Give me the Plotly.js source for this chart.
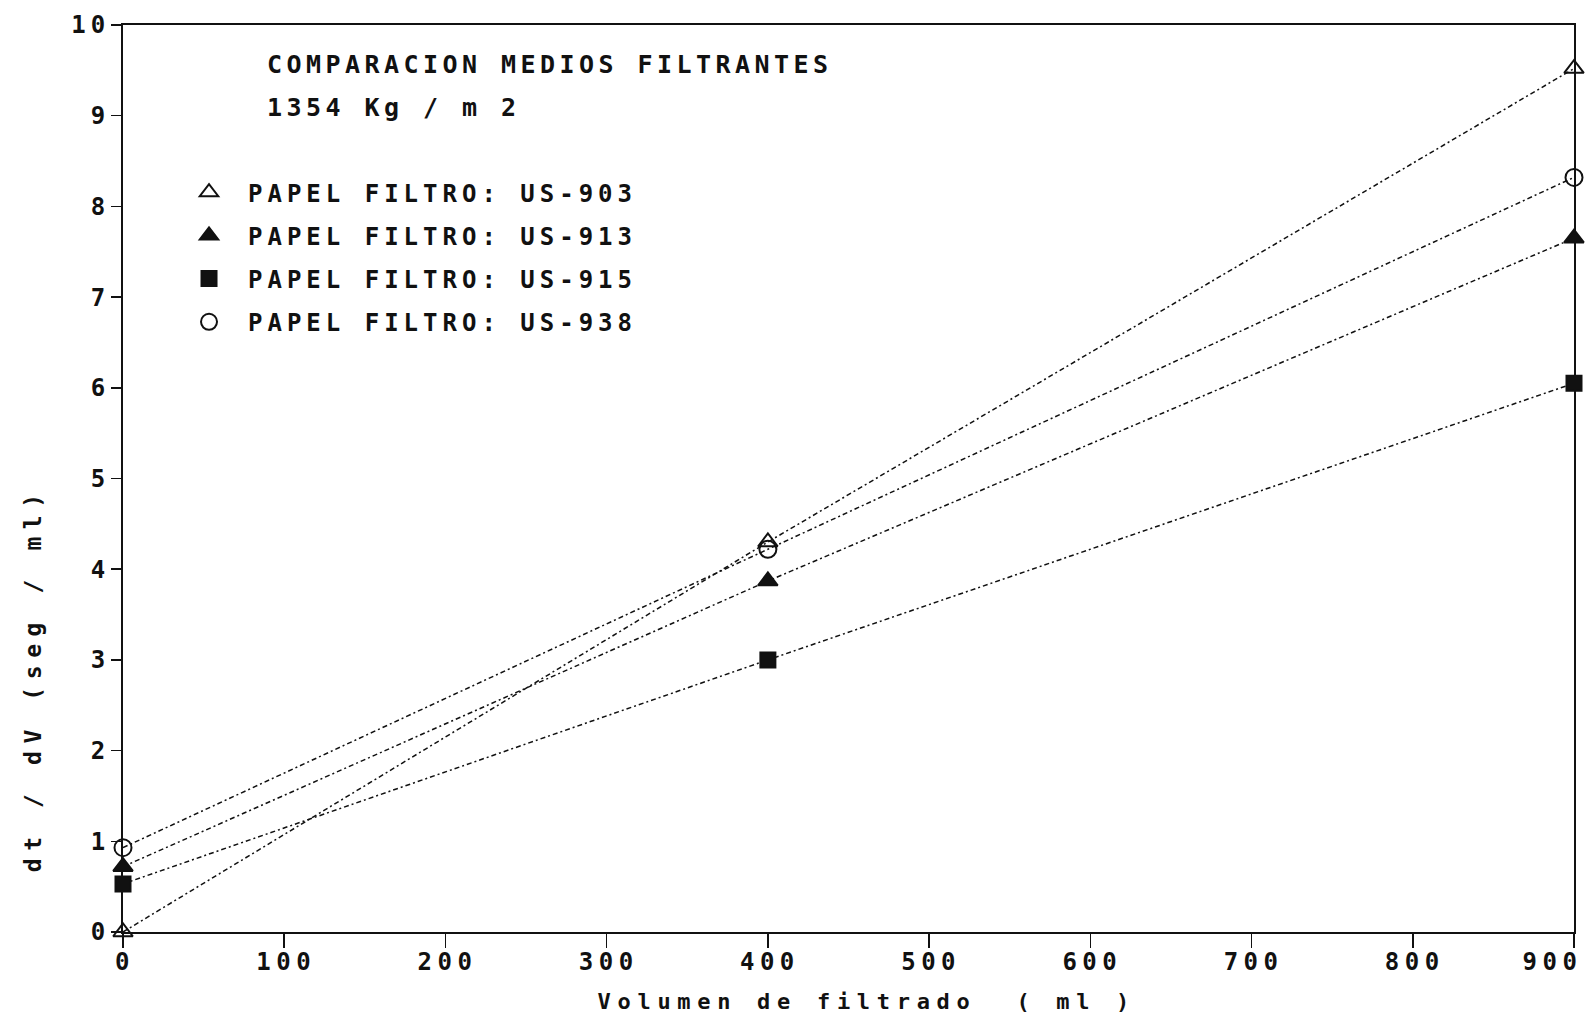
<!DOCTYPE html>
<html>
<head>
<meta charset="utf-8">
<script src="https://cdn.plot.ly/plotly-3.0.1.min.js"></script>
<style>
  html, body { margin: 0; padding: 0; background: #fff; }
  #chart { width: 1596px; height: 1023px; }
  .main-svg .xtick text { letter-spacing: 5.5px; }
  .main-svg .ytick text { letter-spacing: 5px; }
  .main-svg .annotation[data-index="0"] text,
  .main-svg .annotation[data-index="1"] text { letter-spacing: 4.45px; }
  .main-svg .annotation[data-index="2"] text { letter-spacing: 6.7px; }
  .main-svg .annotation[data-index="3"] text { letter-spacing: 7.6px; }
  .main-svg .annotation[data-index="4"] text { letter-spacing: 5.5px; }
  .main-svg .legendtext { letter-spacing: 5px; }
  .main-svg .legend, .main-svg .legend * { clip-path: none !important; }
</style>
</head>
<body>
<div id="chart"></div>
<script>
// Data
const volumen = [0, 400, 900];                 // ml
const us903 = [0.0, 4.30, 9.52];               // open triangle
const us913 = [0.72, 3.87, 7.65];              // filled triangle
const us915 = [0.53, 3.00, 6.05];              // filled square
const us938 = [0.93, 4.22, 8.32];              // open circle
const seriesNames = ['PAPEL FILTRO: US-903', 'PAPEL FILTRO: US-913', 'PAPEL FILTRO: US-915', 'PAPEL FILTRO: US-938'];
const xTicks = [0, 100, 200, 300, 400, 500, 600, 700, 800, 900];
const yTicks = [0, 1, 2, 3, 4, 5, 6, 7, 8, 9, 10];
const xTickText = ['0', '100', '200', '300', '400', '500', '600', '700', '800', '900'];
const yTickText = ['0', '1', '2', '3', '4', '5', '6', '7', '8', '9', '10'];

const INK = '#111';
const FONT = '"DejaVu Sans Mono", "Liberation Mono", monospace';
const seriesY = [us903, us913, us915, us938];
const symbols = ['triangle-up-open', 'triangle-up', 'square', 'circle-open'];
const sizes = [17, 17, 15, 17];

const traces = [];
seriesY.forEach((ys, i) => {
  traces.push({
    x: volumen, y: ys, type: 'scatter', mode: 'lines+markers',
    name: seriesNames[i], showlegend: false, cliponaxis: false,
    line: { color: INK, width: 1.5, dash: '5px,3px,2px,3px' },
    marker: { symbol: symbols[i], size: sizes[i], color: INK, line: { color: INK, width: 2 } }
  });
});
// legend entries (marker only)
seriesY.forEach((ys, i) => {
  traces.push({
    x: [null], y: [null], type: 'scatter', mode: 'markers',
    name: seriesNames[i], showlegend: true, legendgroup: 'g' + i,
    marker: { symbol: symbols[i], size: sizes[i], color: INK, line: { color: INK, width: 2 } }
  });
});

// last x tick label is right-aligned to its tick in the reference
const lastX = xTicks.length - 1;
const xAxisText = xTickText.map((t, i) => (i === lastX ? '' : t));

const layout = {
  width: 1596, height: 1023,
  margin: { l: 123, r: 22, t: 25, b: 91 },
  paper_bgcolor: '#fff', plot_bgcolor: '#fff',
  showlegend: true,
  legend: {
    x: 0.0324, y: 0.840, xanchor: 'left', yanchor: 'top',
    bgcolor: 'rgba(0,0,0,0)', borderwidth: 0,
    font: { family: FONT, size: 24, color: INK, weight: 'bold' },
    tracegroupgap: 9, itemwidth: 68
  },
  xaxis: {
    range: [0, 900], tickmode: 'array', tickvals: xTicks, ticktext: xAxisText,
    showgrid: false, zeroline: false, showline: true, linecolor: INK, linewidth: 2,
    mirror: true, ticks: 'outside', ticklen: 14, tickwidth: 1.5, tickcolor: INK,
    ticklabelshift: 2, ticklabelstandoff: -7,
    tickfont: { family: FONT, size: 24, color: INK, weight: 'bold' }
  },
  yaxis: {
    range: [0, 10], tickmode: 'array', tickvals: yTicks, ticktext: yTickText,
    showgrid: false, zeroline: false, showline: true, linecolor: INK, linewidth: 2,
    mirror: true, ticks: 'outside', ticklen: 10, tickwidth: 1.5, tickcolor: INK,
    ticklabelstandoff: -4,
    tickfont: { family: FONT, size: 24, color: INK, weight: 'bold' }
  },
  annotations: [
    { text: 'COMPARACION MEDIOS FILTRANTES', xref: 'paper', yref: 'paper', x: 0.098, y: 0.957,
      xanchor: 'left', yanchor: 'middle', align: 'left', showarrow: false,
      font: { family: FONT, size: 25, color: INK, weight: 'bold' } },
    { text: '1354 Kg / m 2', xref: 'paper', yref: 'paper', x: 0.098, y: 0.909,
      xanchor: 'left', yanchor: 'middle', align: 'left', showarrow: false,
      font: { family: FONT, size: 25, color: INK, weight: 'bold' } },
    { text: 'Volumen de filtrado  ( ml )', xref: 'paper', yref: 'paper', x: 0.513, y: -0.077,
      xanchor: 'center', yanchor: 'middle', showarrow: false,
      font: { family: FONT, size: 22, color: INK, weight: 'bold' } },
    { text: 'dt / dV (seg / ml)', xref: 'paper', yref: 'paper', x: -0.062, y: 0.278,
      xanchor: 'center', yanchor: 'middle', showarrow: false, textangle: -90,
      font: { family: FONT, size: 23, color: INK, weight: 'bold' } },
    { text: xTickText[lastX], xref: 'x', yref: 'paper', x: xTicks[lastX], y: 0,
      xanchor: 'right', yanchor: 'middle', align: 'right', showarrow: false,
      xshift: 10, yshift: -30,
      font: { family: FONT, size: 24, color: INK, weight: 'bold' } }
  ]
};

Plotly.newPlot('chart', traces, layout, { staticPlot: true, displayModeBar: false });
</script>
</body>
</html>
